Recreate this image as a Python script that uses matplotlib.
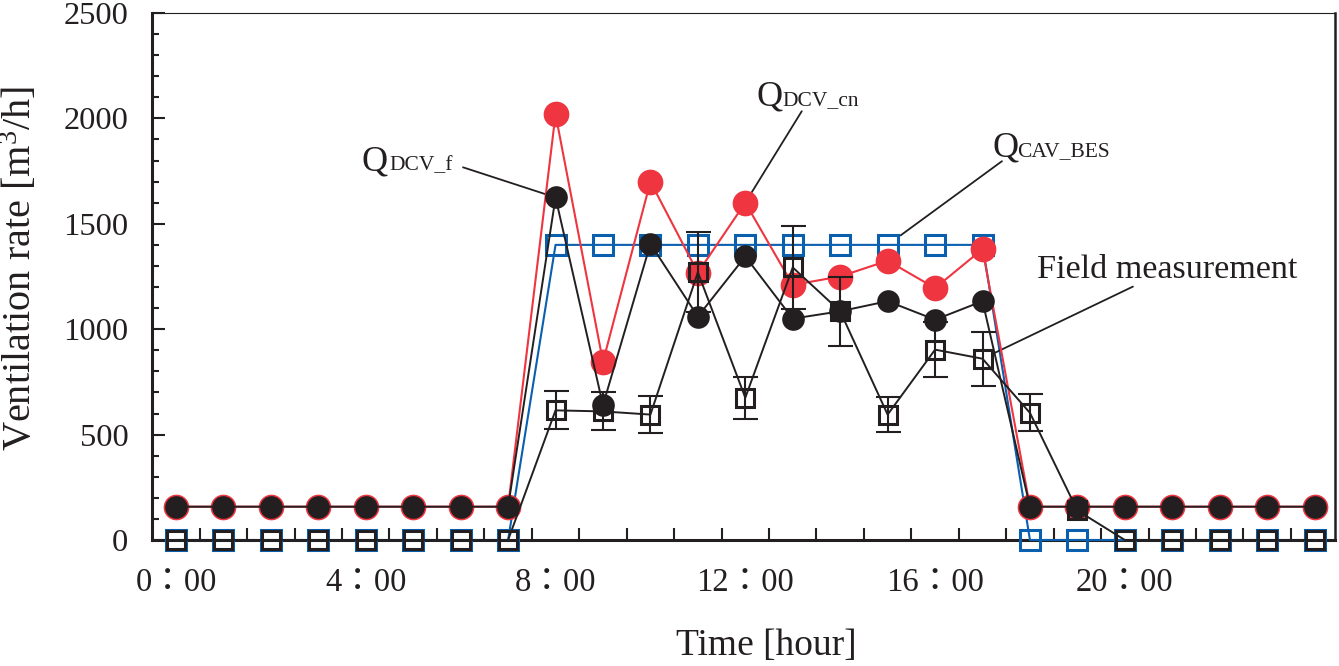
import numpy as np
import matplotlib.pyplot as plt
from matplotlib.ticker import FixedLocator, MultipleLocator

# hourly values
hours = np.arange(25)
q_dcv_cn = np.array([158, 158, 158, 158, 158, 158, 158, 158,
                     2020, 845, 1700, 1268, 1600, 1210, 1250, 1325, 1195, 1380,
                     158, 158, 158, 158, 158, 158, 158])
q_dcv_f = np.array([158, 158, 158, 158, 158, 158, 158, 158,
                    1625, 640, 1405, 1060, 1345, 1050, 1085, 1133, 1045, 1133,
                    158, 158, 158, 158, 158, 158, 158])
q_cav_bes = np.array([0, 0, 0, 0, 0, 0, 0, 0,
                      1400, 1400, 1400, 1400, 1400, 1400, 1400, 1400, 1400, 1400,
                      0, 0, 0, 0, 0, 0, 0])
field = np.array([0, 0, 0, 0, 0, 0, 0, 0,
                  615, 610, 595, 1270, 675, 1293, 1085, 595, 903, 860, 603, 140,
                  0, 0, 0, 0, 0])
field_err = np.array([0, 0, 0, 0, 0, 0, 0, 0,
                      90, 90, 88, 190, 100, 195, 165, 85, 130, 128, 88, 0,
                      0, 0, 0, 0, 0])

xtick_pos = [0, 4, 8, 12, 16, 20]
xtick_labels = ['0\uff1a00', '4\uff1a00', '8\uff1a00', '12\uff1a00', '16\uff1a00', '20\uff1a00']

RED = '#ee3540'
BLUE = '#0a5fae'
BLACK = '#231f20'
SERIF = ['Liberation Serif', 'Noto Sans CJK JP']

plt.rcParams['font.family'] = SERIF
plt.rcParams['mathtext.fontset'] = 'custom'
plt.rcParams['mathtext.rm'] = 'Liberation Serif'
plt.rcParams['mathtext.it'] = 'Liberation Serif'

fig = plt.figure(figsize=(13.39, 6.66), dpi=100)
ax = fig.add_axes([152 / 1339, 1 - 540 / 666, 1183 / 1339, 527 / 666])

ax.plot(hours, q_cav_bes, color=BLUE, lw=1.5, marker='s', ms=14.2, mew=2.2,
        mfc='none', mec=BLUE, zorder=3, clip_on=False)
ax.plot(hours, q_dcv_cn, color=RED, lw=1.5, marker='o', ms=18.5, mew=0,
        mfc=RED, zorder=4, clip_on=False)
m = field_err > 0
ax.errorbar(hours[m], field[m], yerr=field_err[m], fmt='none', ecolor=BLACK,
            elinewidth=1.5, capsize=9, capthick=1.5, zorder=5)
ax.plot(hours, field, color=BLACK, lw=1.4, marker='s', ms=12.8, mew=2.2,
        mfc='none', mec=BLACK, zorder=5, clip_on=False)
ax.plot(hours, q_dcv_f, color=BLACK, lw=1.4, marker='o', ms=16.3, mew=0,
        mfc=BLACK, zorder=6, clip_on=False)

ax.set_xlim(-0.506, 24.43)
ax.set_ylim(0, 2500)

ax.xaxis.set_major_locator(FixedLocator(xtick_pos))
ax.set_xticklabels(xtick_labels, fontsize=23.5, family=SERIF)
ax.xaxis.set_minor_locator(FixedLocator(np.arange(0.5, 24, 1.0)))
ax.tick_params(axis='x', which='major', length=0, pad=20)
ax.tick_params(axis='x', which='minor', direction='in', length=9, width=1.5,
               color=BLACK)

ax.yaxis.set_major_locator(MultipleLocator(500))
ax.yaxis.set_minor_locator(MultipleLocator(100))
ax.tick_params(axis='y', which='major', direction='in', length=9, width=1.5,
               labelsize=23.4, pad=17, color=BLACK)
ax.tick_params(axis='y', which='minor', direction='in', length=5, width=1.5,
               color=BLACK)
ax.tick_params(labelcolor=BLACK)

for side, w in [('left', 2.2), ('bottom', 2.2), ('right', 1.8), ('top', 0.8)]:
    ax.spines[side].set_linewidth(w)
    ax.spines[side].set_color(BLACK)

ax.set_xlabel('Time [hour]', fontsize=27, color=BLACK)
ax.xaxis.set_label_coords(0.519, -0.2)
ax.xaxis.label.set_verticalalignment('center')
ax.set_ylabel('Ventilation rate [m$^3$/h]', fontsize=29, color=BLACK)
ax.yaxis.set_label_coords(-0.1116, 0.516)
ax.yaxis.label.set_verticalalignment('center')

# series labels with leader lines
labels = [
    ('DCV_f', 3.92, 4.50, 1754, (6.05, 1768), (8, 1625), 8),
    ('DCV_cn', 12.24, 12.78, 2063, (13.19, 2034), (12, 1600), 5.5),
    ('CAV_BES', 17.22, 17.73, 1820, (17.41, 1797), (15, 1400), 11.5),
]
for sub, qx, sx, y, start, end, shrink in labels:
    ax.text(qx, y, 'Q', fontsize=26, va='baseline', ha='left', color=BLACK)
    ax.text(sx, y, sub, fontsize=15.5, va='baseline', ha='left', color=BLACK)
    ax.annotate('', xy=end, xytext=start,
                arrowprops=dict(arrowstyle='-', color=BLACK, lw=1.3,
                                shrinkA=0, shrinkB=shrink))

ax.text(18.15, 1245, 'Field measurement', fontsize=24.6, va='baseline',
        ha='left', color=BLACK)
ax.annotate('', xy=(17, 860), xytext=(20.17, 1202),
            arrowprops=dict(arrowstyle='-', color=BLACK, lw=1.3,
                            shrinkA=0, shrinkB=8))

fig.savefig('out.png', dpi=100)
